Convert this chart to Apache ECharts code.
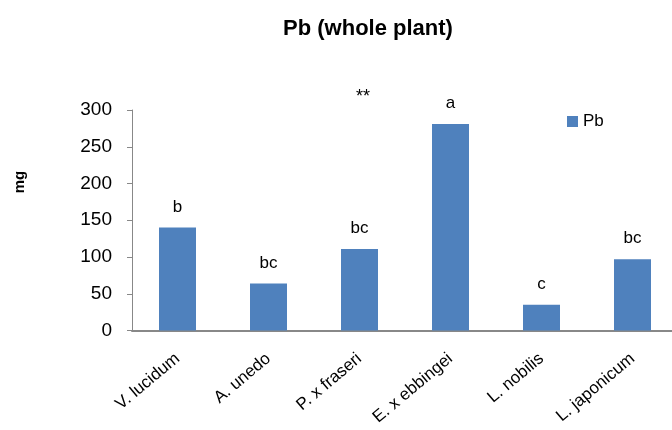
<!DOCTYPE html>
<html>
<head>
<meta charset="utf-8">
<script src="https://cdn.jsdelivr.net/npm/echarts@6/dist/echarts.min.js"></script>
<style>html,body{margin:0;padding:0;background:#fff;}#c{width:672px;height:430px;}</style>
</head>
<body>
<div id="c"></div>
<script>
const categories = ["V. lucidum", "A. unedo", "P. x fraseri", "E. x ebbingei", "L. nobilis", "L. japonicum"];
const pbValues = [140, 64, 111, 281, 35, 97];
const letters = ["b", "bc", "bc", "a", "c", "bc"];
const yTicks = [0, 50, 100, 150, 200, 250, 300];

const chart = echarts.init(document.getElementById('c'), null, {renderer: 'canvas'});
const font = "'Liberation Sans', Arial, sans-serif";
chart.setOption({
  animation: false,
  backgroundColor: '#fff',
  title: {
    text: 'Pb (whole plant)',
    left: 363, top: 13, textAlign: 'center',
    textStyle: {fontFamily: font, fontWeight: 'bold', fontSize: 22, color: '#000'}
  },
  legend: {
    data: ['Pb'], left: 562, top: 108,
    icon: 'rect', itemWidth: 11, itemHeight: 11, itemGap: 3,
    textStyle: {fontFamily: font, fontSize: 17, color: '#000'}
  },
  grid: {left: 132, width: 546, top: 110, bottom: 99.5, containLabel: false, outerBoundsMode: 'none'},
  xAxis: {
    type: 'category', data: categories,
    axisLine: {lineStyle: {color: '#888', width: 2}},
    axisTick: {show: false},
    axisLabel: {rotate: 40, interval: 0, fontFamily: font, fontSize: 17, color: '#000', margin: 26}
  },
  yAxis: {
    type: 'value', min: yTicks[0], max: yTicks[yTicks.length - 1], interval: 50,
    axisLine: {show: true, lineStyle: {color: '#888', width: 1}},
    axisTick: {show: true, length: 5, lineStyle: {color: '#888'}},
    splitLine: {show: false},
    axisLabel: {fontFamily: font, fontSize: 19, color: '#000', margin: 20}
  },
  graphic: [{
    type: 'text', x: 20, y: 182, rotation: Math.PI / 2,
    style: {text: 'mg', font: 'bold 15px ' + font, fill: '#000', textAlign: 'center', textVerticalAlign: 'middle'}
  }, {
    type: 'text', left: 356, top: 88,
    style: {text: '**', font: '18px ' + font, fill: '#000'}
  }],
  series: [{
    name: 'Pb', type: 'bar', data: pbValues, barWidth: 37,
    itemStyle: {color: '#4f81bd'},
    label: {
      show: true, position: 'top', distance: 12,
      formatter: p => letters[p.dataIndex],
      fontFamily: font, fontSize: 17, color: '#000'
    }
  }]
});
</script>
</body>
</html>
